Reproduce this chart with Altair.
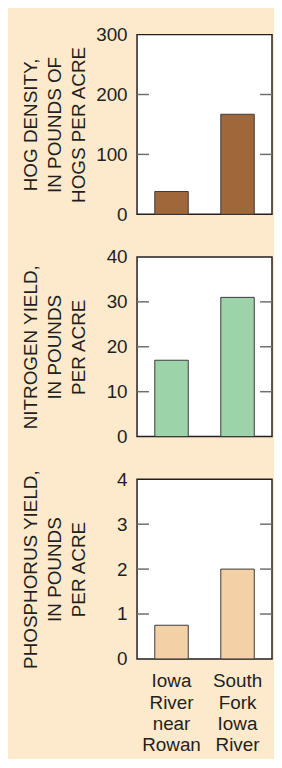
import altair as alt
import pandas as pd

sites = ["Iowa River near Rowan", "South Fork Iowa River"]
hog_density = [38, 167]
nitrogen_yield = [17, 31]
phosphorus_yield = [0.75, 2.0]

hog_labels = [0, 100, 200, 300]
nitrogen_labels = [0, 10, 20, 30, 40]
phosphorus_labels = [0, 1, 2, 3, 4]

hog_ticks = [100, 200]
nitrogen_ticks = [10, 20, 30]
phosphorus_ticks = [1, 2, 3]

hog_title = ["HOG DENSITY,", "IN POUNDS OF", "HOGS PER ACRE"]
nitrogen_title = ["NITROGEN YIELD,", "IN POUNDS", "PER ACRE"]
phosphorus_title = ["PHOSPHORUS YIELD,", "IN POUNDS", "PER ACRE"]

W = 136
H = 181
FONT = "Liberation Sans"
TXT = "#231F20"


def panel(values, color, labels, ticks, title, show_x):
    df = pd.DataFrame({"site": sites, "value": values})
    tdf = pd.DataFrame({"value": ticks})
    if show_x:
        x_axis = alt.Axis(
            labelExpr="split(datum.label, ' ')",
            labelAngle=0,
            labelFont=FONT,
            labelFontSize=19,
            labelLineHeight=21.5,
            labelPadding=13,
            labelColor=TXT,
            labelBaseline="top",
            domain=False,
            ticks=False,
            tickSize=0,
            title=None,
        )
    else:
        x_axis = None
    x = alt.X(
        "site:N",
        sort=sites,
        scale=alt.Scale(paddingInner=0.493, paddingOuter=0.269),
        axis=x_axis,
        title=None,
    )
    y = alt.Y(
        "value:Q",
        scale=alt.Scale(domain=[labels[0], labels[-1]], nice=False),
        axis=alt.Axis(
            values=labels,
            title=title,
            titleAngle=270,
            titleAlign="center",
            titleBaseline="top",
            titleX=-116,
            titleY=H / 2,
            titleLineHeight=24,
            titleFont=FONT,
            titleFontSize=19,
            titleFontWeight="normal",
            titleColor=TXT,
            labelFont=FONT,
            labelFontSize=19,
            labelColor=TXT,
            labelPadding=10,
            labelFlush=False,
            domain=False,
            ticks=False,
            tickSize=0,
            grid=False,
        ),
    )
    bars = alt.Chart(df).mark_bar(
        color=color, stroke="#3a3a3a", strokeWidth=1
    ).encode(x=x, y=y)
    left = alt.Chart(tdf).mark_rule(color="#6e6e6e", strokeWidth=1.5).encode(
        y=alt.Y("value:Q"), x=alt.value(0), x2=alt.value(12)
    )
    right = alt.Chart(tdf).mark_rule(color="#6e6e6e", strokeWidth=1.5).encode(
        y=alt.Y("value:Q"), x=alt.value(W - 12), x2=alt.value(W)
    )
    return alt.layer(bars, left, right).properties(width=W, height=H)


p1 = panel(hog_density, "#A0683A", hog_labels, hog_ticks, hog_title, False)
p2 = panel(nitrogen_yield, "#9CD3A8", nitrogen_labels, nitrogen_ticks, nitrogen_title, False)
p3 = panel(phosphorus_yield, "#F4D0A6", phosphorus_labels, phosphorus_ticks, phosphorus_title, True)

chart = alt.vconcat(p1, p2, p3, spacing=43, bounds="flush").properties(
    padding={"left": 13, "top": 14, "right": 0, "bottom": 0},
    background="#FDEACD",
).configure_view(
    fill="white", stroke=TXT, strokeWidth=1.5
)

chart.save("out.html", embed_options={"renderer": "svg", "actions": False})
